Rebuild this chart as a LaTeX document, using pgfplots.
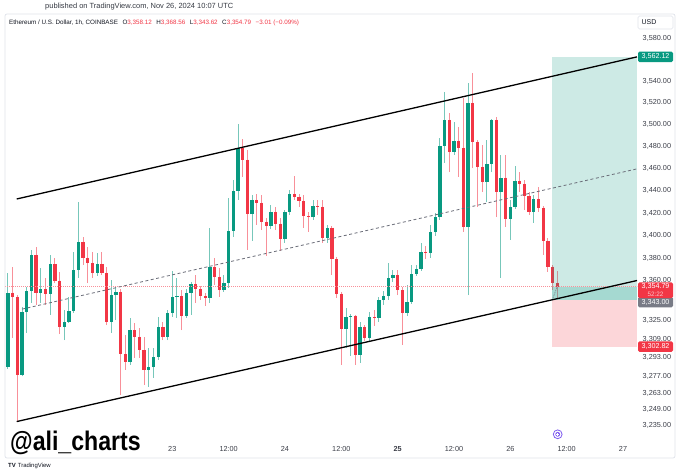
\documentclass[border=0pt]{standalone}
\usepackage{pgfplots}
\pgfplotsset{compat=1.18}
\usepackage{fontspec}
\setmainfont{Liberation Sans}

\definecolor{tvgreen}{HTML}{089981}
\definecolor{tvred}{HTML}{F23645}
\definecolor{tvtext}{HTML}{131722}
\definecolor{tvaxis}{HTML}{3B3E48}
\definecolor{tvgray}{HTML}{787B86}
\definecolor{tvborder}{HTML}{E0E3EB}
\definecolor{tvmid}{HTML}{6A6D78}
\definecolor{tvpurple}{HTML}{7E5BEF}

\pgfplotsset{
  wick/.style={line width=1bp},
  body/.style={line width=3.3bp, line cap=butt},
}
\tikzset{
  tag/.style={text=white, minimum width=35bp, minimum height=10.5bp, inner sep=0pt,
    rounded corners=1.5bp, font=\fontsize{7.2}{8}\selectfont},
}

\begin{document}
\begin{tikzpicture}[x=1bp,y=1bp]
\fill[white] (-5,-37) rectangle (675,437);

\begin{axis}[
  at={(0,0)}, anchor=south west,
  width=632bp, height=423bp, scale only axis,
  xmin=-35.63, xmax=98.98,
  % log price scale, shifted so TeX dimensions stay small
  y coord trafo/.code={\pgfmathparse{(ln(#1)-8.08)*1000}},
  y coord inv trafo/.code={\pgfmathparse{exp(#1/1000+8.08)}},
  ymin=3225.72, ymax=3602.5,
  axis line style={draw=none},
  major tick length=0pt, minor tick length=0pt,
  xtick={0,12,24,36,48,60,72,84,96},
  xticklabels={23,12:00,24,12:00,\textbf{25},12:00,26,12:00,27},
  ytick={3580,3540,3520,3500,3480,3460,3440,3420,3400,3380,3360,3325,3309,3293,3277,3263,3249,3235},
  yticklabels={{3,580.00},{3,540.00},{3,520.00},{3,500.00},{3,480.00},{3,460.00},{3,440.00},{3,420.00},{3,400.00},{3,380.00},{3,360.00},{3,325.00},{3,309.00},{3,293.00},{3,277.00},{3,263.00},{3,249.00},{3,235.00}},
  yticklabel pos=right,
  tick label style={font=\fontsize{7.3}{8}\selectfont, text=tvaxis},
  xticklabel style={yshift=-5.5bp},
  yticklabel style={xshift=2.2bp},
  unbounded coords=jump,
  clip=false,
]

% wicks, hour offsets from Nov 23 00:00
\addplot[wick, draw=tvgreen!55] coordinates {
(-35,3283.5)(-35,3366.9)(nan,3400)(-32,3277.0)(-32,3337.1)(nan,3400)(-31,3314.5)(-31,3354.6)(nan,3400)
(-30,3340.6)(-30,3387.2)(nan,3400)(-28,3340.6)(-28,3371.3)(nan,3400)(-26,3330.2)(-26,3382.8)(nan,3400)
(-23,3308.5)(-23,3334.5)(nan,3400)(-22,3323.2)(-22,3345.8)(nan,3400)(-21,3331.9)(-21,3385.4)(nan,3400)
(-20,3362.5)(-20,3429.9)(nan,3400)(-16,3364.3)(-16,3384.5)(nan,3400)(-13,3314.5)(-13,3360.8)(nan,3400)
(-12,3325.8)(-12,3354.6)(nan,3400)(-9,3287.0)(-9,3327.6)(nan,3400)(-5,3268.1)(-5,3301.6)(nan,3400)
(-4,3275.8)(-4,3301.6)(nan,3400)(-3,3291.3)(-3,3328.4)(nan,3400)(-1,3308.5)(-1,3334.5)(nan,3400)
(0,3328.4)(0,3368.7)(nan,3400)(1,3327.6)(1,3362.5)(nan,3400)(3,3327.6)(3,3352.9)(nan,3400)
(4,3330.2)(4,3359.0)(nan,3400)(8,3340.6)(8,3406.7)(nan,3400)(11,3350.2)(11,3365.1)(nan,3400)
(12,3353.7)(12,3433.5)(nan,3400)(13,3398.7)(13,3449.7)(nan,3400)(14,3431.7)(14,3500.5)(nan,3400)
(17,3395.2)(17,3436.2)(nan,3400)(21,3405.8)(21,3427.2)(nan,3400)(24,3393.4)(24,3422.8)(nan,3400)
(25,3418.3)(25,3440.7)(nan,3400)(30,3413.8)(30,3431.7)(nan,3400)(33,3393.4)(33,3409.4)(nan,3400)
(37,3301.6)(37,3336.3)(nan,3400)(38,3294.7)(38,3331.1)(nan,3400)(40,3288.7)(40,3324.1)(nan,3400)
(42,3307.6)(42,3332.8)(nan,3400)(44,3324.1)(44,3345.8)(nan,3400)(45,3338.9)(45,3351.1)(nan,3400)
(46,3343.2)(46,3375.7)(nan,3400)(47,3359.0)(47,3369.5)(nan,3400)(50,3329.3)(50,3356.4)(nan,3400)
(51,3339.8)(51,3373.9)(nan,3400)(52,3364.3)(52,3373.9)(nan,3400)(53,3368.7)(53,3393.4)(nan,3400)
(55,3380.1)(55,3409.4)(nan,3400)(56,3399.6)(56,3420.1)(nan,3400)(57,3413.8)(57,3487.7)(nan,3400)
(58,3465.0)(58,3529.9)(nan,3400)(60,3472.3)(60,3502.3)(nan,3400)(63,3347.6)(63,3538.2)(nan,3400)
(67,3429.9)(67,3485.9)(nan,3400)(68,3456.9)(68,3505.1)(nan,3400)(70,3362.5)(70,3472.3)(nan,3400)
(72,3396.1)(72,3431.7)(nan,3400)(73,3423.7)(73,3462.3)(nan,3400)(77,3411.2)(77,3436.2)
};
\addplot[wick, draw=tvred!55] coordinates {
(-34,3310.2)(-34,3372.2)(nan,3400)(-33,3239.2)(-33,3347.6)(nan,3400)(-29,3338.9)(-29,3389.8)(nan,3400)
(-27,3338.9)(-27,3362.5)(nan,3400)(-25,3358.1)(-25,3380.1)(nan,3400)(-24,3313.7)(-24,3367.8)(nan,3400)
(-19,3373.9)(-19,3398.7)(nan,3400)(-18,3358.1)(-18,3389.8)(nan,3400)(-17,3362.5)(-17,3385.4)(nan,3400)
(-15,3365.1)(-15,3385.4)(nan,3400)(-14,3321.5)(-14,3372.2)(nan,3400)(-11,3261.3)(-11,3352.9)(nan,3400)
(-10,3282.7)(-10,3312.8)(nan,3400)(-8,3293.0)(-8,3323.2)(nan,3400)(-7,3293.0)(-7,3318.9)(nan,3400)
(-6,3269.8)(-6,3311.1)(nan,3400)(-2,3308.5)(-2,3324.1)(nan,3400)(2,3317.1)(2,3352.0)(nan,3400)
(5,3340.6)(5,3365.1)(nan,3400)(6,3343.2)(6,3355.5)(nan,3400)(7,3338.0)(7,3349.4)(nan,3400)
(9,3356.4)(9,3380.1)(nan,3400)(10,3345.8)(10,3371.3)(nan,3400)(15,3452.4)(15,3486.8)(nan,3400)
(16,3387.2)(16,3476.8)(nan,3400)(18,3409.4)(18,3437.1)(nan,3400)(19,3404.9)(19,3436.2)(nan,3400)
(20,3381.9)(20,3415.6)(nan,3400)(22,3404.9)(22,3425.4)(nan,3400)(23,3386.3)(23,3415.6)(nan,3400)
(26,3431.7)(26,3453.3)(nan,3400)(27,3425.4)(27,3437.1)(nan,3400)(28,3406.7)(28,3436.2)(nan,3400)
(29,3403.2)(29,3421.0)(nan,3400)(31,3418.3)(31,3431.7)(nan,3400)(32,3393.4)(32,3431.7)(nan,3400)
(34,3365.1)(34,3408.5)(nan,3400)(35,3345.0)(35,3381.0)(nan,3400)(36,3287.0)(36,3350.2)(nan,3400)
(39,3287.0)(39,3330.2)(nan,3400)(41,3307.6)(41,3321.5)(nan,3400)(43,3320.6)(43,3334.5)(nan,3400)
(48,3347.6)(48,3369.5)(nan,3400)(49,3304.2)(49,3354.6)(nan,3400)(54,3379.2)(54,3390.7)(nan,3400)
(59,3456.9)(59,3510.6)(nan,3400)(61,3452.4)(61,3497.8)(nan,3400)(62,3403.2)(62,3524.4)(nan,3400)
(64,3460.5)(64,3547.5)(nan,3400)(65,3425.4)(65,3485.9)(nan,3400)(66,3438.9)(66,3481.4)(nan,3400)
(69,3416.5)(69,3506.9)(nan,3400)(71,3407.6)(71,3472.3)(nan,3400)(74,3438.9)(74,3456.9)(nan,3400)
(75,3422.8)(75,3449.7)(nan,3400)(76,3418.3)(76,3438.9)(nan,3400)(78,3421.0)(78,3443.4)(nan,3400)
(79,3382.8)(79,3426.3)(nan,3400)(80,3367.8)(80,3397.8)(nan,3400)(81,3352.0)(81,3373.9)(nan,3400)
(82,3343.62)(82,3368.56)
};

% bodies, open -> close
\addplot[body, draw=tvgreen] coordinates {
(-35,3285.2)(-35,3349.4)(nan,3400)(-32,3278.4)(-32,3332.8)(nan,3400)(-31,3332.8)(-31,3351.1)(nan,3400)
(-30,3351.1)(-30,3382.8)(nan,3400)(-28,3349.4)(-28,3352.9)(nan,3400)(-26,3348.5)(-26,3374.8)(nan,3400)
(-23,3319.7)(-23,3324.1)(nan,3400)(-22,3324.1)(-22,3333.7)(nan,3400)(-21,3333.7)(-21,3369.5)(nan,3400)
(-20,3369.5)(-20,3394.3)(nan,3400)(-16,3366.9)(-16,3374.8)(nan,3400)(-13,3324.1)(-13,3347.6)(nan,3400)
(-12,3347.6)(-12,3350.2)(nan,3400)(-9,3289.5)(-9,3317.1)(nan,3400)(-5,3282.7)(-5,3285.2)(nan,3400)
(-4,3285.2)(-4,3293.8)(nan,3400)(-3,3293.8)(-3,3319.7)(nan,3400)(-1,3311.1)(-1,3331.9)(nan,3400)
(0,3331.9)(0,3345.8)(nan,3400)(1,3345.8)(1,3346.7)(nan,3400)(3,3329.3)(3,3349.4)(nan,3400)
(4,3349.4)(4,3357.2)(nan,3400)(8,3345.0)(8,3372.2)(nan,3400)(11,3352.0)(11,3358.1)(nan,3400)
(12,3358.1)(12,3404.0)(nan,3400)(13,3404.0)(13,3439.8)(nan,3400)(14,3439.8)(14,3478.6)(nan,3400)
(17,3419.2)(17,3431.7)(nan,3400)(21,3408.5)(21,3421.0)(nan,3400)(24,3396.9)(24,3421.0)(nan,3400)
(25,3421.0)(25,3437.1)(nan,3400)(30,3416.5)(30,3426.3)(nan,3400)(33,3397.8)(33,3406.7)(nan,3400)
(37,3318.0)(37,3328.4)(nan,3400)(38,3328.4)(38,3329.4)(nan,3400)(40,3295.6)(40,3319.7)(nan,3400)
(42,3310.2)(42,3328.4)(nan,3400)(44,3327.4)(44,3343.2)(nan,3400)(45,3343.2)(45,3346.7)(nan,3400)
(46,3346.7)(46,3362.5)(nan,3400)(47,3362.5)(47,3365.1)(nan,3400)(50,3331.9)(50,3341.5)(nan,3400)
(51,3341.5)(51,3366.0)(nan,3400)(52,3366.0)(52,3370.4)(nan,3400)(53,3370.4)(53,3385.4)(nan,3400)
(55,3384.4)(55,3403.2)(nan,3400)(56,3403.2)(56,3416.5)(nan,3400)(57,3416.5)(57,3480.5)(nan,3400)
(58,3480.5)(58,3504.2)(nan,3400)(60,3475.0)(60,3485.0)(nan,3400)(63,3407.6)(63,3519.8)(nan,3400)
(67,3447.9)(67,3464.1)(nan,3400)(68,3464.1)(68,3504.2)(nan,3400)(70,3438.9)(70,3451.5)(nan,3400)
(72,3414.7)(72,3425.4)(nan,3400)(73,3425.4)(73,3448.8)(nan,3400)(77,3421.0)(77,3432.6)
};
\addplot[body, draw=tvred] coordinates {
(-34,3349.4)(-34,3345.8)(nan,3400)(-33,3345.8)(-33,3278.4)(nan,3400)(-29,3382.8)(-29,3349.4)(nan,3400)
(-27,3352.9)(-27,3348.5)(nan,3400)(-25,3374.8)(-25,3359.9)(nan,3400)(-24,3359.9)(-24,3319.7)(nan,3400)
(-19,3394.3)(-19,3380.1)(nan,3400)(-18,3380.1)(-18,3375.7)(nan,3400)(-17,3375.7)(-17,3366.9)(nan,3400)
(-15,3374.8)(-15,3366.9)(nan,3400)(-14,3366.9)(-14,3324.1)(nan,3400)(-11,3350.2)(-11,3296.4)(nan,3400)
(-10,3296.4)(-10,3289.5)(nan,3400)(-8,3317.1)(-8,3311.1)(nan,3400)(-7,3311.1)(-7,3299.9)(nan,3400)
(-6,3299.9)(-6,3282.7)(nan,3400)(-2,3319.7)(-2,3311.1)(nan,3400)(2,3346.7)(2,3329.3)(nan,3400)
(5,3357.2)(5,3352.9)(nan,3400)(6,3352.9)(6,3346.7)(nan,3400)(7,3346.7)(7,3345.0)(nan,3400)
(9,3372.2)(9,3363.4)(nan,3400)(10,3363.4)(10,3352.0)(nan,3400)(15,3478.6)(15,3467.8)(nan,3400)
(16,3467.8)(16,3419.2)(nan,3400)(18,3431.7)(18,3429.0)(nan,3400)(19,3429.0)(19,3412.1)(nan,3400)
(20,3412.1)(20,3408.5)(nan,3400)(22,3421.0)(22,3410.3)(nan,3400)(23,3410.3)(23,3396.9)(nan,3400)
(26,3437.1)(26,3434.4)(nan,3400)(27,3434.4)(27,3430.8)(nan,3400)(28,3430.8)(28,3417.4)(nan,3400)
(29,3417.4)(29,3416.5)(nan,3400)(31,3426.3)(31,3425.4)(nan,3400)(32,3425.4)(32,3397.8)(nan,3400)
(34,3406.7)(34,3379.2)(nan,3400)(35,3379.2)(35,3348.5)(nan,3400)(36,3348.5)(36,3318.0)(nan,3400)
(39,3329.4)(39,3295.6)(nan,3400)(41,3319.7)(41,3310.2)(nan,3400)(43,3328.4)(43,3327.4)(nan,3400)
(48,3365.1)(48,3352.0)(nan,3400)(49,3352.0)(49,3331.9)(nan,3400)(54,3385.4)(54,3384.4)(nan,3400)
(59,3504.2)(59,3475.0)(nan,3400)(61,3485.0)(61,3478.6)(nan,3400)(62,3478.6)(62,3407.6)(nan,3400)
(64,3519.8)(64,3484.1)(nan,3400)(65,3484.1)(65,3461.4)(nan,3400)(66,3461.4)(66,3447.9)(nan,3400)
(69,3504.2)(69,3438.9)(nan,3400)(71,3451.5)(71,3414.7)(nan,3400)(74,3448.8)(74,3446.1)(nan,3400)
(75,3446.1)(75,3435.3)(nan,3400)(76,3435.3)(76,3421.0)(nan,3400)(78,3432.6)(78,3424.5)(nan,3400)
(79,3424.5)(79,3395.2)(nan,3400)(80,3395.2)(80,3372.2)(nan,3400)(81,3372.2)(81,3358.1)(nan,3400)
(82,3358.12)(82,3354.79)
};

% long position: target, live P&L, stop
\fill[tvgreen, fill opacity=0.2] (axis cs:80.87,3343) rectangle (axis cs:98.98,3562.12);
\fill[tvgreen, fill opacity=0.2] (axis cs:80.87,3343) rectangle (axis cs:98.98,3354.79);
\fill[tvred, fill opacity=0.2] (axis cs:80.87,3302.82) rectangle (axis cs:98.98,3343);
\draw[tvgray, line width=0.6bp, dash pattern=on 1.5bp off 1bp] (axis cs:80.87,3343) -- (axis cs:82,3354.79);

% last price
\addplot[tvred!55, line width=0.5bp, dash pattern=on 1bp off 1bp] coordinates {(-35.63,3354.79) (98.98,3354.79)};

% channel
\addplot[black, line width=1.3bp] coordinates {(-33.14,3432.3) (98.98,3562.12)};
\addplot[black, line width=1.3bp] coordinates {(-33.14,3238.6) (98.98,3360.1)};
\addplot[tvmid, line width=0.8bp, dash pattern=on 3bp off 2.5bp] coordinates {(-32.0,3335.1) (98.98,3459.7)};

\coordinate (tagTP) at (axis cs:98.98,3562.12);
\coordinate (tagCP) at (axis cs:98.98,3354.79);
\coordinate (tagEN) at (axis cs:98.98,3343);
\coordinate (tagSL) at (axis cs:98.98,3302.82);
\end{axis}

% price scale tags
\node[tag, fill=tvgreen] at ([xshift=18.5bp]tagTP) {3,562.12};
\node[tag, fill=tvgray] at ([xshift=18.5bp,yshift=-1.8bp]tagEN) {3,343.00};
\fill[tvred, rounded corners=1.5bp] ([xshift=1bp,yshift=4.2bp]tagCP) rectangle ([xshift=36bp,yshift=-11.5bp]tagCP);
\node[text=white, inner sep=0pt, font=\fontsize{7.2}{8}\selectfont] at ([xshift=18.5bp]tagCP) {3,354.79};
\node[text=white!70!tvred, inner sep=0pt, font=\fontsize{6.4}{7}\selectfont] at ([xshift=18.5bp,yshift=-7.4bp]tagCP) {52:22};
\node[tag, fill=tvred] at ([xshift=18.5bp]tagSL) {3,302.82};

% USD box
\draw[tvborder, line width=0.6bp, rounded corners=1.5bp] (633,408) rectangle (668,421);
\node[anchor=west, inner sep=0pt, font=\fontsize{7}{8}\selectfont, text=tvtext] at (636.5,414.5) {USD};

% frame
\draw[tvborder, line width=0.7bp, rounded corners=2bp] (0,-21) rectangle (670,423);

% header texts
\node[anchor=west, inner sep=0pt, font=\fontsize{7.5}{9}\selectfont, text=tvtext!85] at (40,430) {published on TradingView.com, Nov 26, 2024 10:07 UTC};
\node[anchor=west, inner sep=0pt, font=\fontsize{6.3}{8}\selectfont, text=tvtext] at (4,414.3)
  {Ethereum / U.S. Dollar, 1h, COINBASE\hspace{4.5bp}O\textcolor{tvred}{3,358.12}\hspace{4.5bp}H\textcolor{tvred}{3,368.56}\hspace{4.5bp}L\textcolor{tvred}{3,343.62}\hspace{4.5bp}C\textcolor{tvred}{3,354.79}\hspace{4.5bp}\textcolor{tvred}{−3.01 (−0.09\%)}};

% watermark and logo
\node[anchor=base west, inner sep=0pt, font=\fontsize{27}{30}\selectfont\bfseries] at (5,-14) {\scalebox{0.86}[1]{@ali\_charts}};
\node[anchor=west, inner sep=0pt, font=\fontsize{6}{7}\selectfont, text=tvtext] at (3,-29) {\textbf{TV}\hspace{2bp}TradingView};

% go-to-realtime icon
\draw[tvpurple, line width=0.8bp] (552.7,2.7) circle (4.4);
\fill[tvpurple] (552.7,2.7) circle (2.4);
\draw[white, line width=0.5bp] (551.4,2.7) -- (554,2.7) (552.7,1.4) -- (552.7,4);

\pgfresetboundingbox
\path[use as bounding box] (-5,-37) rectangle (675,437);
\end{tikzpicture}
\end{document}
